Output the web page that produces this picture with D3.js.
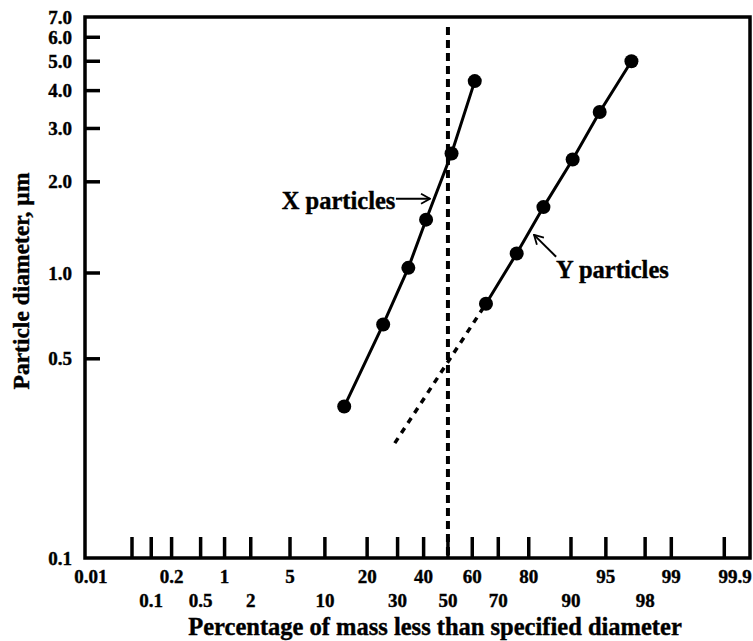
<!DOCTYPE html>
<html>
<head>
<meta charset="utf-8">
<script src="https://cdn.jsdelivr.net/npm/d3@7"></script>
<style>
  body { margin: 0; background: #fff; }
  text { font-family: "Liberation Serif", "Times New Roman", serif; font-weight: bold; fill: #000; stroke: #000; stroke-width: 0.4px; }
</style>
</head>
<body>
<svg id="chart"></svg>
<script>
// cumulative percentage of mass vs particle diameter (um)
const xPct = [14, 25, 34, 41, 51.5, 61];
const xDiam = [0.34, 0.66, 1.04, 1.5, 2.48, 4.3];
const yPct = [65.4, 76.3, 84, 90.3, 94.3, 97.2];
const yDiam = [0.78, 1.16, 1.65, 2.37, 3.4, 5.0];
const yExtPct = [29, 65.4];   // dotted extrapolation of Y
const yExtDiam = [0.253, 0.78];
const medianPct = 50;

const yTickVals = [0.5, 1.0, 2.0, 3.0, 4.0, 5.0, 6.0];
const yLabelVals = [0.1, 0.5, 1.0, 2.0, 3.0, 4.0, 5.0, 6.0, 7.0];
const xTickVals = [0.05, 0.1, 0.2, 0.5, 1, 2, 5, 10, 20, 30, 40, 50, 60, 70, 80, 90, 95, 98, 99, 99.8];
const xLabelsTop = [0.01, 0.2, 1, 5, 20, 40, 60, 80, 95, 99, 99.9];
const xLabelsBottom = [0.1, 0.5, 2, 10, 30, 50, 70, 90, 98];

const width = 753, height = 641;
const margin = { left: 85, top: 17, right: 3, bottom: 83 };

const svg = d3.select("#chart").attr("width", width).attr("height", height);

// inverse normal cdf (Acklam)
const probit = p => {
    const a = [-3.969683028665376e+01, 2.209460984245205e+02, -2.759285104469687e+02, 1.383577518672690e+02, -3.066479806614716e+01, 2.506628277459239e+00];
    const b = [-5.447609879822406e+01, 1.615858368580409e+02, -1.556989798598866e+02, 6.680131188771972e+01, -1.328068155288572e+01];
    const c = [-7.784894002430293e-03, -3.223964580411365e-01, -2.400758277161838e+00, -2.549732539343734e+00, 4.374664141464968e+00, 2.938163982698783e+00];
    const d = [7.784695709041462e-03, 3.224671290700398e-01, 2.445134137142996e+00, 3.754408661907416e+00];
    const plow = 0.02425;
    if (p < plow) {
        const q = Math.sqrt(-2 * Math.log(p));
        return (((((c[0]*q+c[1])*q+c[2])*q+c[3])*q+c[4])*q+c[5]) / ((((d[0]*q+d[1])*q+d[2])*q+d[3])*q+1);
    }
    if (p > 1 - plow) {
        const q = Math.sqrt(-2 * Math.log(1 - p));
        return -(((((c[0]*q+c[1])*q+c[2])*q+c[3])*q+c[4])*q+c[5]) / ((((d[0]*q+d[1])*q+d[2])*q+d[3])*q+1);
    }
    const q = p - 0.5, r = q * q;
    return (((((a[0]*r+a[1])*r+a[2])*r+a[3])*r+a[4])*r+a[5])*q / (((((b[0]*r+b[1])*r+b[2])*r+b[3])*r+b[4])*r+1);
};

const zScale = d3.scaleLinear()
    .domain([-3.78, 3.146])
    .range([margin.left, width - margin.right]);
const x = pct => zScale(probit(pct / 100));

// log scale, the paper's decades are not quite even
const y = d3.scaleLog()
    .domain([0.1, 1, 7])
    .range([height - margin.bottom, 273, margin.top]);

const x0 = margin.left, x1 = width - margin.right;
const y0 = height - margin.bottom, y1 = margin.top;

// frame
svg.append("path")
   .attr("d", `M${x0},${y1}H${x1}V${y0}H${x0}Z`)
   .attr("fill", "none")
   .attr("stroke", "#000")
   .attr("stroke-width", 3.5);

// y ticks
svg.selectAll(".ytick").data(yTickVals).enter()
   .append("line")
   .attr("x1", x0).attr("x2", x0 + 15)
   .attr("y1", d => y(d)).attr("y2", d => y(d))
   .attr("stroke", "#000").attr("stroke-width", 3.5);

svg.selectAll(".ylab").data(yLabelVals).enter()
   .append("text")
   .attr("x", 72)
   .attr("y", d => Math.max(y(d), 15))
   .attr("dy", "0.35em")
   .attr("text-anchor", "end")
   .attr("font-size", 19)
   .text(d => d.toFixed(1));

// x ticks
svg.selectAll(".xtick").data(xTickVals).enter()
   .append("line")
   .attr("x1", d => x(d)).attr("x2", d => x(d))
   .attr("y1", y0).attr("y2", y0 - 21)
   .attr("stroke", "#000").attr("stroke-width", 3.5);

svg.selectAll(".xlabTop").data(xLabelsTop).enter()
   .append("text")
   .attr("x", d => Math.max(Math.min(x(d), width - 18), 88))
   .attr("y", 583)
   .attr("text-anchor", "middle")
   .attr("font-size", 19)
   .text(d => d);

svg.selectAll(".xlabBot").data(xLabelsBottom).enter()
   .append("text")
   .attr("x", d => x(d))
   .attr("y", 607)
   .attr("text-anchor", "middle")
   .attr("font-size", 19)
   .text(d => d);

// axis titles
svg.append("text")
   .attr("x", 435)
   .attr("y", 635)
   .attr("text-anchor", "middle")
   .attr("font-size", 24.5)
   .text("Percentage of mass less than specified diameter");

svg.append("text")
   .attr("transform", "translate(29,281) rotate(-90)")
   .attr("text-anchor", "middle")
   .attr("font-size", 23.5)
   .text("Particle diameter, \u00b5m");

// median line
svg.append("line")
   .attr("x1", x(medianPct)).attr("x2", x(medianPct))
   .attr("y1", 27).attr("y2", y0)
   .attr("stroke", "#000")
   .attr("stroke-width", 4)
   .attr("stroke-dasharray", "8,5");

const line = d3.line().x(d => x(d[0])).y(d => y(d[1]));

// dotted extension of Y
svg.append("path")
   .attr("d", line(d3.zip(yExtPct, yExtDiam)))
   .attr("fill", "none")
   .attr("stroke", "#000")
   .attr("stroke-width", 3.5)
   .attr("stroke-dasharray", "6,6");

[[xPct, xDiam], [yPct, yDiam]].forEach(([pcts, diams]) => {
    const pts = d3.zip(pcts, diams);
    svg.append("path")
       .attr("d", line(pts))
       .attr("fill", "none")
       .attr("stroke", "#000")
       .attr("stroke-width", 3);
    svg.selectAll(null).data(pts).enter()
       .append("circle")
       .attr("cx", d => x(d[0]))
       .attr("cy", d => y(d[1]))
       .attr("r", 7)
       .attr("fill", "#000");
});

// annotations
svg.append("defs").append("marker")
   .attr("id", "head")
   .attr("viewBox", "0 0 12 12")
   .attr("refX", 11).attr("refY", 6)
   .attr("markerWidth", 12).attr("markerHeight", 12)
   .attr("markerUnits", "userSpaceOnUse")
   .attr("orient", "auto")
   .append("path")
   .attr("d", "M2,1L11,6L2,11")
   .attr("fill", "none")
   .attr("stroke", "#000")
   .attr("stroke-width", 1.8);

svg.append("text")
   .attr("x", x(29.2)).attr("y", y(1.63))
   .attr("text-anchor", "end")
   .attr("font-size", 24.5)
   .text("X particles");

svg.append("line")
   .attr("x1", x(29.4)).attr("y1", y(1.758))
   .attr("x2", x(42.6)).attr("y2", y(1.758))
   .attr("stroke", "#000").attr("stroke-width", 2)
   .attr("marker-end", "url(#head)");

svg.append("text")
   .attr("x", x(87)).attr("y", y(0.958))
   .attr("font-size", 24.5)
   .text("Y particles");

svg.append("line")
   .attr("x1", x(87)).attr("y1", y(1.132))
   .attr("x2", x(81.5)).attr("y2", y(1.336))
   .attr("stroke", "#000").attr("stroke-width", 2)
   .attr("marker-end", "url(#head)");
</script>
</body>
</html>
